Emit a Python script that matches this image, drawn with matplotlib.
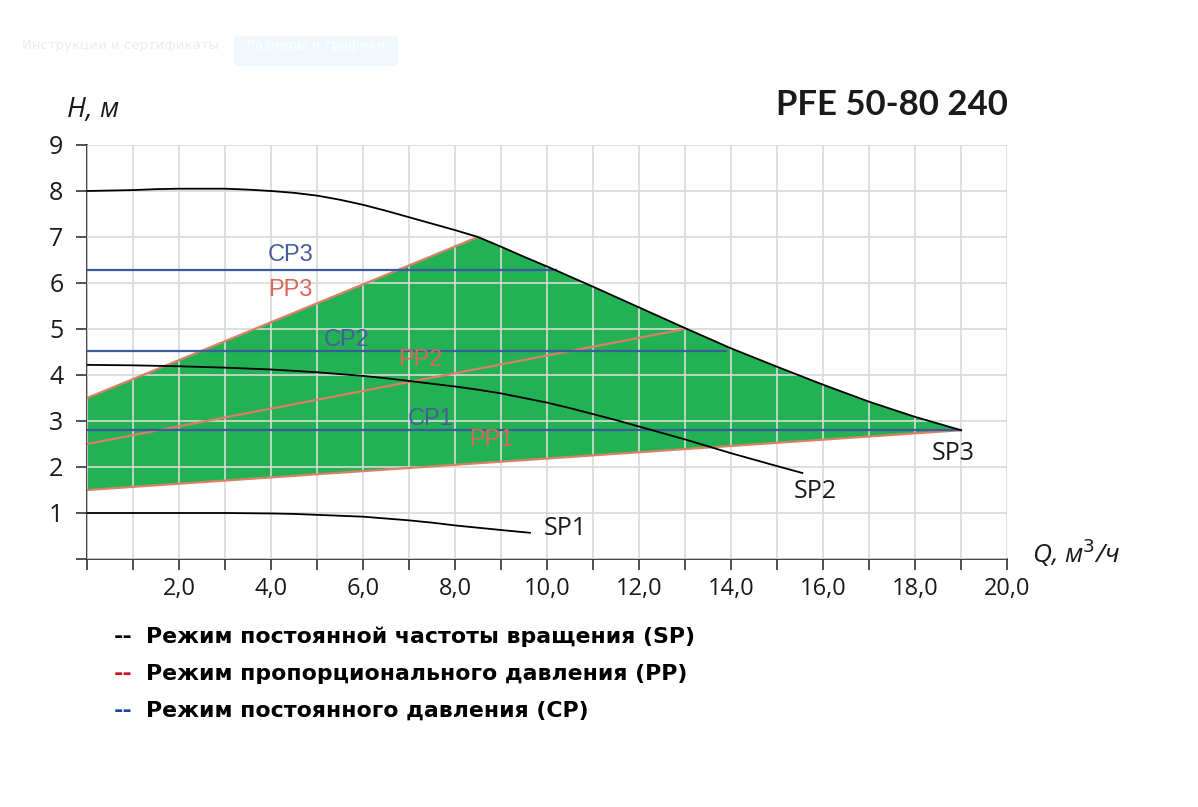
import matplotlib.pyplot as plt
import matplotlib.patches as mpatches
import numpy as np

# --- data (Q in m3/h, H in m) ---
sp3_q = [0, 0.5, 1, 1.5, 2, 2.5, 3, 3.5, 4, 4.5, 5, 5.5, 6, 6.5, 7, 7.5, 8, 8.5, 9, 9.5, 10,
         11, 12, 13, 14, 15, 16, 17, 18, 19]
sp3_h = [8.0, 8.01, 8.02, 8.04, 8.05, 8.05, 8.05, 8.03, 8.0, 7.96, 7.9, 7.81, 7.7, 7.57, 7.43,
         7.29, 7.15, 7.0, 6.79, 6.57, 6.36, 5.92, 5.47, 5.02, 4.58, 4.18, 3.79, 3.42, 3.09, 2.8]

sp2_q = [0, 1, 2, 3, 4, 5, 6, 6.5, 7, 7.5, 8, 8.5, 9, 9.5, 10, 10.5, 11, 11.5, 12, 13, 14, 15,
         15.55]
sp2_h = [4.22, 4.21, 4.19, 4.16, 4.12, 4.06, 3.98, 3.93, 3.87, 3.81, 3.75, 3.68, 3.6, 3.5, 3.4,
         3.28, 3.15, 3.02, 2.88, 2.6, 2.3, 2.02, 1.87]

sp1_q = [0, 1, 2, 3, 4, 4.5, 5, 5.5, 6, 6.5, 7, 7.5, 8, 8.5, 9, 9.63]
sp1_h = [1.0, 1.0, 1.0, 1.0, 0.99, 0.98, 0.96, 0.94, 0.92, 0.88, 0.84, 0.79, 0.73, 0.68, 0.63,
         0.57]

# proportional pressure lines: (q0, h0) -> (q1, h1)
pp_lines = {'PP1': ([0, 19], [1.5, 2.8]),
            'PP2': ([0, 13], [2.5, 5.0]),
            'PP3': ([0, 8.5], [3.5, 7.0])}

# constant pressure lines: level and end flow
cp_lines = {'CP1': (2.8, 19.0),
            'CP2': (4.53, 13.9),
            'CP3': (6.28, 10.2)}

labels = {'CP3': (4.43, 6.61), 'PP3': (4.41, 5.85), 'CP2': (5.65, 4.76),
          'PP2': (7.24, 4.33), 'CP1': (7.46, 3.04), 'PP1': (8.8, 2.59),
          'SP3': (18.83, 2.30), 'SP2': (15.83, 1.46), 'SP1': (10.39, 0.67)}

legend_items = [('black', 'Режим постоянной частоты вращения (SP)'),
                ('#c8141e', 'Режим пропорционального давления (PP)'),
                ('#1f44a8', 'Режим постоянного давления (CP)')]

green = '#22b254'
pp_col = '#d98066'
pp_txt = '#d9675a'
cp_col = '#3d5a9e'
cp_txt = '#4a5c9e'

W, H = 1198, 807
fig = plt.figure(figsize=(W / 100, H / 100), dpi=100)
ax = fig.add_axes([87 / W, 1 - 559 / H, (1007 - 87) / W, (559 - 145) / H])

# green working area: PP3 up to SP3, SP3 down to end, PP1 back
sp3_q_arr = np.array(sp3_q)
sp3_h_arr = np.array(sp3_h)
upper = sp3_q_arr >= 8.5
poly_q = [0] + list(sp3_q_arr[upper]) + [0]
poly_h = [3.5] + list(sp3_h_arr[upper]) + [1.5]
ax.fill(poly_q, poly_h, color=green, zorder=1, lw=0)

ax.set_xlim(0, 20)
ax.set_ylim(0, 9)
ax.set_xticks(np.arange(0, 21, 1))
ax.set_yticks(np.arange(0, 10, 1))
ax.set_xticklabels(['' if (i == 0 or i % 2) else f'{i:.1f}'.replace('.', ',') for i in range(21)])
ax.set_yticklabels(['' if i == 0 else str(i) for i in range(10)])
ax.grid(True, color='#d9d9d9', lw=1.2, zorder=2)
ax.set_axisbelow(False)
for s in ['top', 'right']:
    ax.spines[s].set_visible(False)
for s in ['left', 'bottom']:
    ax.spines[s].set_color('#333333')
    ax.spines[s].set_linewidth(1.3)
ax.tick_params(direction='out', length=8, width=1.2, color='#333333',
               labelsize=17, labelcolor='#1a1a1a', pad=5)
ax.tick_params(axis='y', labelsize=18, pad=9)
for lab in ax.get_xticklabels() + ax.get_yticklabels():
    lab.set_fontfamily('Open Sans')

# lines
ax.plot(sp3_q, sp3_h, color='black', lw=1.3, zorder=4)
ax.plot(sp2_q, sp2_h, color='black', lw=1.3, zorder=4)
ax.plot(sp1_q, sp1_h, color='black', lw=1.3, zorder=4)
for name, (q, h) in pp_lines.items():
    ax.plot(q, h, color=pp_col, lw=1.6, zorder=3)
for name, (level, qend) in cp_lines.items():
    ax.plot([0, qend], [level, level], color=cp_col, lw=1.6, zorder=3)

for name, (x, y) in labels.items():
    if name.startswith('SP'):
        ax.text(x, y, name, color='#1a1a1a', fontsize=18, family='Open Sans',
                ha='center', va='center', zorder=5)
    elif name.startswith('PP'):
        ax.text(x, y, name, color=pp_txt, fontsize=17, family='Liberation Sans',
                ha='center', va='center', zorder=5)
    else:
        ax.text(x, y, name, color=cp_txt, fontsize=17, family='Liberation Sans',
                ha='center', va='center', zorder=5)

# axis titles
fig.text(67 / W, 1 - 110 / H, 'H, м', fontsize=20, style='italic', family='Open Sans',
         ha='left', va='center', color='#1a1a1a')
fig.text(1032 / W, 1 - 553 / H, 'Q, м$^3$/ч', fontsize=19, style='italic', family='Open Sans',
         ha='left', va='center', color='#1a1a1a')
fig.text(1008 / W, 1 - 105 / H, 'PFE 50-80 240', fontsize=25, weight='bold',
         family='Lato', ha='right', va='center', color='#1a1a1a')

# legend below
for i, (col, txt) in enumerate(legend_items):
    yy = 1 - (637 + i * 37) / H
    fig.text(114 / W, yy, '--', color=col, fontsize=16, weight='bold', family='DejaVu Sans',
             ha='left', va='center')
    fig.text(146 / W, yy, txt, color='black', fontsize=15.8, weight='bold', family='DejaVu Sans',
             ha='left', va='center')

# faint page remnants
fig.text(22 / W, 1 - 46 / H, 'Инструкции и сертификаты', fontsize=9.5, color='#ececec',
         ha='left', va='center')
fig.patches.append(mpatches.FancyBboxPatch((234 / W, 1 - 66 / H), 164 / W, 30 / H,
                                           boxstyle='round,pad=0,rounding_size=0.004',
                                           transform=fig.transFigure, fc='#f0f8fd', ec='none'))
fig.text(316 / W, 1 - 46 / H, 'Размеры и графики', fontsize=9.5, color='#ffffff',
         ha='center', va='center')

fig.savefig('out.png', dpi=100)
